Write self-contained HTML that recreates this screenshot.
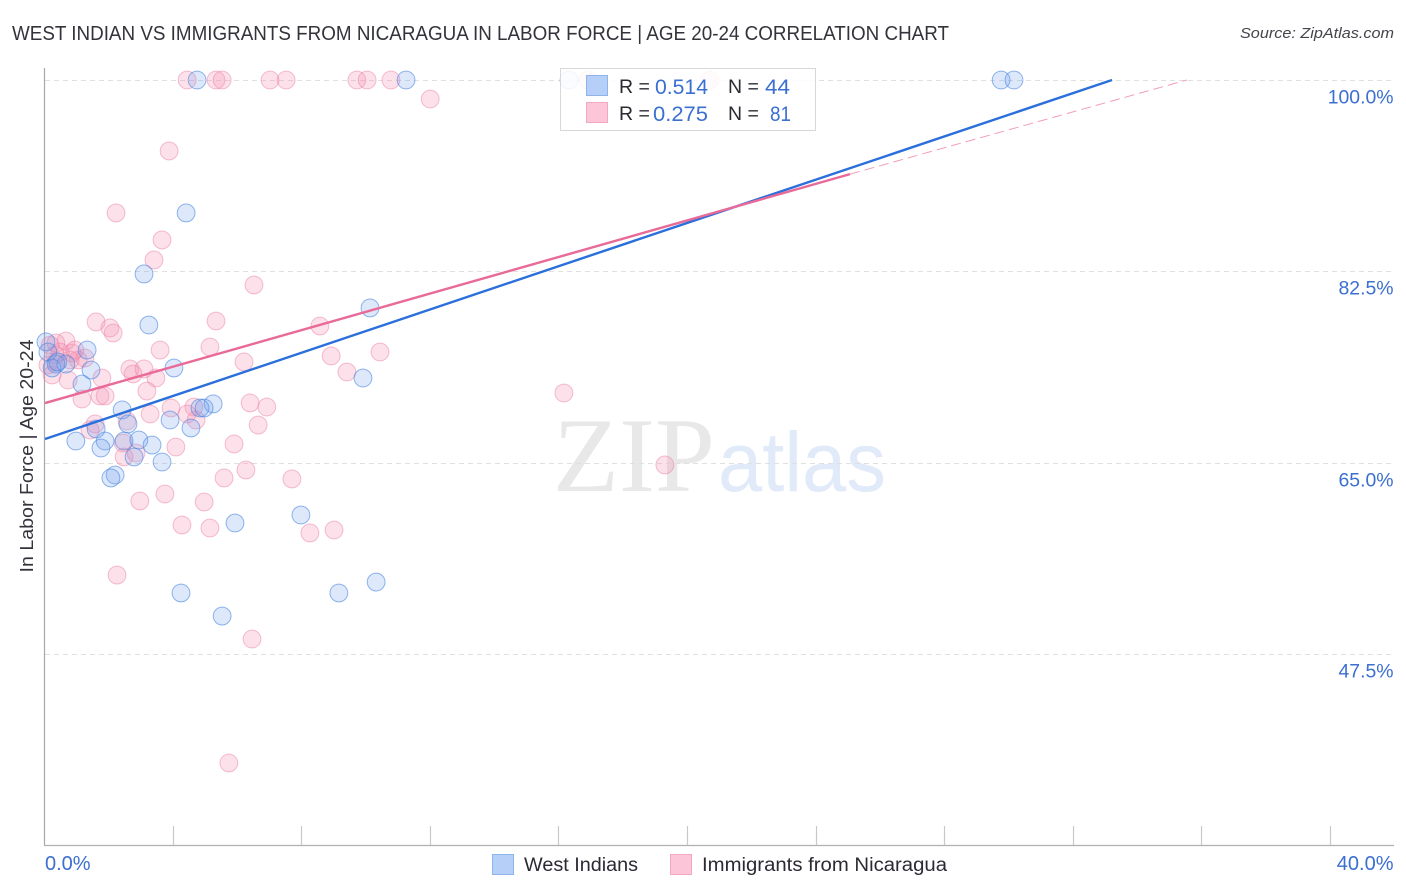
<!DOCTYPE html>
<html lang="en">
<head>
<meta charset="utf-8">
<title>West Indian vs Immigrants from Nicaragua correlation chart</title>
<style>
html,body{margin:0;padding:0;background:#fff;}
body{width:1406px;height:892px;overflow:hidden;font-family:"Liberation Sans",sans-serif;}
svg{display:block;}
text{font-family:"Liberation Sans",sans-serif;}
</style>
</head>
<body>
<svg id="chart" width="1406" height="892" viewBox="0 0 1406 892">
  <text x="12" y="40" font-size="20" fill="#33333b" textLength="937" lengthAdjust="spacingAndGlyphs">WEST INDIAN VS IMMIGRANTS FROM NICARAGUA IN LABOR FORCE | AGE 20-24 CORRELATION CHART</text>
  <text x="1394" y="38" font-size="15" font-style="italic" fill="#44444c" text-anchor="end" textLength="154" lengthAdjust="spacingAndGlyphs">Source: ZipAtlas.com</text>
  <g>
    <text x="553" y="491" font-size="106" fill="#e8e8e8" style="font-family:'Liberation Serif',serif" textLength="162" lengthAdjust="spacingAndGlyphs">ZIP</text>
    <text x="718" y="491" font-size="84" fill="#e1eaf9" textLength="168" lengthAdjust="spacingAndGlyphs">atlas</text>
  </g>
  <g id="grid"></g>
  <g id="axes"></g>
  <g id="pts"></g>
  <g id="fits"></g>
  <text transform="translate(33,456) rotate(-90)" font-size="18.5" fill="#33333b" text-anchor="middle" textLength="233" lengthAdjust="spacingAndGlyphs">In Labor Force | Age 20-24</text>

  <g>
    <rect x="560.5" y="68.5" width="255" height="62" fill="#ffffff" fill-opacity="0.86" stroke="#d8d8d8"/>
    <rect x="586.5" y="75.5" width="21" height="20" fill="#b5cff8" stroke="#8fb4e8"/>
    <rect x="586.5" y="102.5" width="21" height="20" fill="#fdc6d8" stroke="#f4a8c0"/>
    <text x="619" y="93" font-size="19.5" fill="#2a2a33">R =</text>
    <text x="655" y="94" font-size="21.5" fill="#3b6fd0" textLength="53" lengthAdjust="spacingAndGlyphs">0.514</text>
    <text x="728" y="93" font-size="19.5" fill="#2a2a33">N =</text>
    <text x="765" y="94" font-size="21.5" fill="#3b6fd0" textLength="25" lengthAdjust="spacingAndGlyphs">44</text>
    <text x="619" y="120" font-size="19.5" fill="#2a2a33">R =</text>
    <text x="653" y="121" font-size="21.5" fill="#3b6fd0" textLength="55" lengthAdjust="spacingAndGlyphs">0.275</text>
    <text x="728" y="120" font-size="19.5" fill="#2a2a33">N =</text>
    <text x="770" y="121" font-size="21.5" fill="#3b6fd0" textLength="21" lengthAdjust="spacingAndGlyphs">81</text>
  </g>

  <g>
    <rect x="492.5" y="854.5" width="21" height="20" fill="#b5cff8" stroke="#8fb4e8"/>
    <text x="524" y="871" font-size="19" fill="#2a2a33" textLength="114" lengthAdjust="spacingAndGlyphs">West Indians</text>
    <rect x="670.5" y="854.5" width="21" height="20" fill="#fdc6d8" stroke="#f4a8c0"/>
    <text x="702" y="871" font-size="19" fill="#2a2a33" textLength="245" lengthAdjust="spacingAndGlyphs">Immigrants from Nicaragua</text>
  </g>
</svg>
<script>
const yTickValues = [100, 82.5, 65, 47.5];
const yTickLabels = ["100.0%", "82.5%", "65.0%", "47.5%"];
const xTickValues = [4, 8, 12, 16, 20, 24, 28, 32, 36, 40];
const xEndLabels = ["0.0%", "40.0%"];

const westIndiansX = [4.73,11.23,16.30,29.74,30.14,4.39,3.08,10.11,3.23,4.01,1.31,9.89,0.03,0.09,0.34,0.65,1.43,1.15,2.40,5.23,4.82,4.95,3.89,4.54,2.58,1.59,0.96,1.87,1.74,2.46,2.92,3.33,2.77,3.64,2.18,2.05,5.91,7.96,4.23,9.14,10.30,5.51,0.22,0.40];
const westIndiansY = [100,100,100,100,100,87.84,82.26,79.15,77.59,73.66,75.30,72.74,76.04,75.12,74.02,74.02,73.47,72.19,69.82,70.37,70.0,70.0,68.90,68.17,68.54,68.08,66.98,66.98,66.34,66.98,67.07,66.61,65.52,65.06,63.87,63.60,59.48,60.21,53.08,53.08,54.08,50.97,73.66,74.21];

const nicaraguaX = [4.42,5.32,5.51,7.0,7.5,9.7,10.02,10.76,16.89,20.68,11.98,3.86,2.21,3.64,3.39,6.5,5.32,8.55,1.59,2.02,2.12,3.58,5.13,8.9,10.42,6.19,9.39,16.14,19.28,2.64,3.08,2.74,3.45,3.17,0.72,1.77,1.15,1.71,1.87,6.38,6.9,3.92,3.27,4.63,4.42,4.7,6.63,1.56,1.4,2.55,5.88,4.07,2.43,2.46,2.83,6.25,5.57,7.68,2.95,3.73,4.95,4.26,5.13,8.24,8.99,2.24,6.44,5.72,0.16,0.34,0.65,0.31,0.47,0.84,0.09,1.03,1.24,0.78,0.22,0.93,0.34];
const nicaraguaY = [100,100,100,100,100,100,100,100,100,100,98.26,93.51,87.84,85.37,83.54,81.25,77.96,77.5,77.87,77.32,76.86,75.30,75.58,74.76,75.12,74.21,73.29,71.37,64.79,73.57,73.57,73.11,72.74,71.55,72.56,72.74,70.82,71.1,71.1,70.46,70.09,70.0,69.45,70.09,69.45,68.9,68.44,68.54,67.99,68.81,66.71,66.43,66.8,65.52,65.88,64.33,63.6,63.51,61.49,62.13,61.4,59.3,59.02,58.57,58.84,54.72,48.87,37.53,75.76,75.94,76.13,74.85,75.12,75.03,73.93,74.39,74.57,74.39,73.02,75.3,74.21];

const westIndiansFitX = [0, 33.19];
const westIndiansFitY = [67.16, 100];
const nicaraguaFitX = [0, 25.04];
const nicaraguaFitY = [70.45, 91.39];
const nicaraguaDashX = [25.04, 35.52];
const nicaraguaDashY = [91.39, 100];

const NS = 'http://www.w3.org/2000/svg';
function xScale(v) { return 45 + v * 32.15; }
function yScale(v) { return 80 + (100 - v) * 10.933; }
function make(tag, parent, attrs) {
  const el = document.createElementNS(NS, tag);
  for (const k in attrs) el.setAttribute(k, attrs[k]);
  parent.appendChild(el);
  return el;
}

const grid = document.getElementById('grid');
const axes = document.getElementById('axes');
const pts = document.getElementById('pts');
const fits = document.getElementById('fits');

yTickValues.forEach(function (v, i) {
  const y = Math.round(yScale(v)) + 0.5;
  const line = make('line', grid, {x1: 45, x2: 1394, y1: y, y2: y, stroke: '#e0e0e0', 'stroke-width': 1, 'stroke-dasharray': '5 4'});
  
  
  const label = make('text', axes, {x: 1393.5, y: y + 23, 'font-size': 19.4, fill: '#3b6fd0', 'text-anchor': 'end'});
  
  
  label.textContent = yTickLabels[i];
});

const yAxis = make('line', axes, {x1: 44.5, x2: 44.5, y1: 68, y2: 846, stroke: '#a8a8a8', 'stroke-width': 1.2});


const xAxis = make('line', axes, {x1: 44, x2: 1394, y1: 845.5, y2: 845.5, stroke: '#b0b0b0', 'stroke-width': 1.2});



xTickValues.forEach(function (v) {
  const x = Math.round(xScale(v)) - 0.5;
  const tick = make('line', axes, {x1: x, x2: x, y1: 826, y2: 845, stroke: '#c8c8c8', 'stroke-width': 1.2});
  
  
});

const xStart = make('text', axes, {x: 45, y: 870, 'font-size': 20, fill: '#3b6fd0'});


xStart.textContent = xEndLabels[0];
const xEnd = make('text', axes, {x: 1393.5, y: 870, 'font-size': 20, fill: '#3b6fd0', 'text-anchor': 'end'});


xEnd.textContent = xEndLabels[1];

nicaraguaX.forEach(function (v, i) {
  const c = make('circle', pts, {cx: xScale(v), cy: yScale(nicaraguaY[i]), r: 8.9, fill: '#f48fb1', 'fill-opacity': 0.27, stroke: '#ec7fa4', 'stroke-opacity': 0.5, 'stroke-width': 1});
  
  
});
westIndiansX.forEach(function (v, i) {
  const c = make('circle', pts, {cx: xScale(v), cy: yScale(westIndiansY[i]), r: 8.9, fill: '#6fa0ee', 'fill-opacity': 0.24, stroke: '#4a86e0', 'stroke-opacity': 0.6, 'stroke-width': 1});
  
  
});

const dash = make('line', fits, {x1: xScale(nicaraguaDashX[0]), y1: yScale(nicaraguaDashY[0]), x2: xScale(nicaraguaDashX[1]), y2: yScale(nicaraguaDashY[1]), stroke: '#ee86a8', 'stroke-width': 1, 'stroke-dasharray': '10 5', 'stroke-opacity': 0.8});


const blueFit = make('line', fits, {x1: xScale(westIndiansFitX[0]), y1: yScale(westIndiansFitY[0]), x2: xScale(westIndiansFitX[1]), y2: yScale(westIndiansFitY[1]), stroke: '#2a6fdb', 'stroke-width': 2.4});


const pinkFit = make('line', fits, {x1: xScale(nicaraguaFitX[0]), y1: yScale(nicaraguaFitY[0]), x2: xScale(nicaraguaFitX[1]), y2: yScale(nicaraguaFitY[1]), stroke: '#e96a98', 'stroke-width': 2.4});


</script>
</body>
</html>
